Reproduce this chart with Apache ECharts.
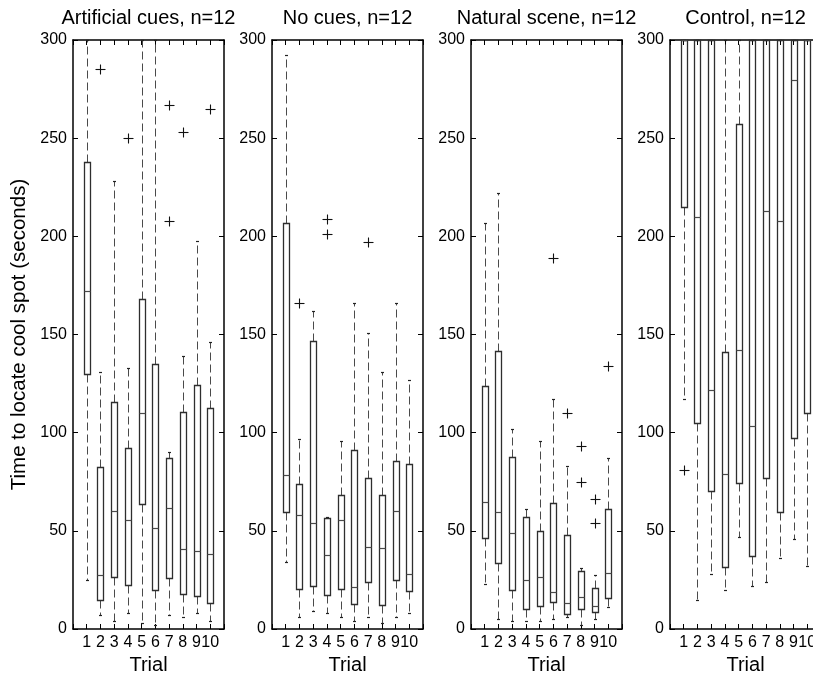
<!DOCTYPE html>
<html><head><meta charset="utf-8">
<script src="https://cdn.jsdelivr.net/npm/echarts@6/dist/echarts.min.js"></script>
<style>html,body{margin:0;padding:0;background:#fff}#c{width:813px;height:680px}</style>
</head><body><div id="c"></div>
<script>
const trialLabels = ['1','2','3','4','5','6','7','8','9','10'];
const trials = [1,2,3,4,5,6,7,8,9,10];
const panelTitles = ['Artificial cues, n=12','No cues, n=12','Natural scene, n=12','Control, n=12'];

// Artificial cues
const artMin = [25, 7, 4, 8, 3, 2, 7, 6, 8, 4];
const artQ1  = [130, 15, 26.5, 22.5, 63.5, 20, 26, 18, 17, 13];
const artMed = [172, 27.5, 60, 55.5, 110, 51.5, 61.5, 40.5, 39.5, 38];
const artQ3  = [238, 82.5, 115.5, 92, 168, 135, 87, 110.5, 124.5, 112.5];
const artMax = [300, 131, 228, 133, 300, 300, 90, 139, 197.5, 146];
const artOut = [[2,285],[4,250],[7,267],[7,208],[8,253],[10,265]];

// No cues
const noMin = [34, 6, 9, 8, 6, 4, 6, 3, 6, 8];
const noQ1  = [59.5, 20.5, 22, 17.5, 20.5, 12.5, 24, 12, 25, 19.5];
const noMed = [78.5, 58, 54, 37.5, 55.5, 21.5, 42, 41.5, 60, 28];
const noQ3  = [207, 74, 146.5, 56.5, 68.5, 91, 77, 68.5, 85.5, 84];
const noMax = [292.5, 97, 162, 57, 96, 166, 151, 131, 166, 127];
const noOut = [[2,166],[4,209],[4,201],[7,197]];

// Natural scene
const natMin = [23, 5, 4, 4, 4, 5, 6, 2, 5, 11];
const natQ1  = [46.5, 33.5, 20, 10, 11.5, 14, 7.5, 10, 8.5, 16];
const natMed = [64.5, 59.5, 49, 25, 26.5, 19, 13, 16.5, 11.5, 28.5];
const natQ3  = [124, 141.5, 87.5, 57, 50, 64, 48, 29.5, 21, 61];
const natMax = [207, 222, 102, 61, 96, 117, 83, 31, 27.5, 87];
const natOut = [[6,189],[7,110],[8,93],[8,75],[9,66],[9,54],[10,134]];

// Control
const ctlMin = [117, 15, 28, 20, 47, 22, 24, 36, 46, 32];
const ctlQ1  = [215, 105, 70.5, 31.5, 74.5, 37, 77, 59.5, 97.5, 110];
const ctlMed = [300, 210, 121.5, 79, 142, 103.5, 213, 208, 279.5, 300];
const ctlQ3  = [300, 300, 300, 141, 257, 300, 300, 300, 300, 300];
const ctlMax = [300, 300, 300, 300, 300, 300, 300, 300, 300, 300];
const ctlOut = [[1,81]];

const panels = [
  [artMin, artQ1, artMed, artQ3, artMax, artOut],
  [noMin, noQ1, noMed, noQ3, noMax, noOut],
  [natMin, natQ1, natMed, natQ3, natMax, natOut],
  [ctlMin, ctlQ1, ctlMed, ctlQ3, ctlMax, ctlOut]
];

const FONT = 'Liberation Sans, Arial, Helvetica, sans-serif';
const gridLefts = [73, 272, 471, 670];
const gridTop = 40, gridW = 151, gridH = 589;
const boxColor = '#2e2e2e', medColor = '#4a4a4a', whiskColor = '#4a4a4a';

function px(v){ return Math.round(v) + 0.5; }

function renderBox(params, api) {
  const x = api.value(0);
  const c = api.coord([x, 0])[0];
  const cx = px(c);
  const hw = Math.round(api.size([0.5, 0])[0] / 2);
  const yMin = px(api.coord([x, api.value(1)])[1]);
  const yQ1 = px(api.coord([x, api.value(2)])[1]);
  const yMed = px(api.coord([x, api.value(3)])[1]);
  const yQ3 = px(api.coord([x, api.value(4)])[1]);
  const yMax = px(api.coord([x, api.value(5)])[1]);
  const dash = { stroke: whiskColor, lineWidth: 1, lineDash: [8, 4], fill: null };
  const solid = { stroke: boxColor, lineWidth: 1.3, fill: null };
  const children = [];
  if (yMax < yQ3) children.push({ type: 'line', shape: { x1: cx, y1: yQ3, x2: cx, y2: yMax }, style: dash });
  if (yMin > yQ1) children.push({ type: 'line', shape: { x1: cx, y1: yQ1, x2: cx, y2: yMin }, style: dash });
  children.push({ type: 'line', shape: { x1: cx - 1.5, y1: yMax, x2: cx + 1.5, y2: yMax }, style: { stroke: '#222', lineWidth: 1.2 } });
  children.push({ type: 'line', shape: { x1: cx - 1.5, y1: yMin, x2: cx + 1.5, y2: yMin }, style: { stroke: '#222', lineWidth: 1.2 } });
  children.push({ type: 'rect', shape: { x: cx - hw, y: yQ3, width: 2 * hw, height: yQ1 - yQ3 }, style: solid });
  children.push({ type: 'line', shape: { x1: cx - hw, y1: yMed, x2: cx + hw, y2: yMed }, style: { stroke: medColor, lineWidth: 1.2 } });
  return { type: 'group', children };
}

function renderOut(params, api) {
  const p = api.coord([api.value(0), api.value(1)]);
  const cx = px(p[0]), cy = px(p[1]), r = 5;
  const st = { stroke: '#111', lineWidth: 1.1 };
  return { type: 'group', children: [
    { type: 'line', shape: { x1: cx - r, y1: cy, x2: cx + r, y2: cy }, style: st },
    { type: 'line', shape: { x1: cx, y1: cy - r, x2: cx, y2: cy + r }, style: st }
  ]};
}

const grids = [], xAxes = [], yAxes = [], series = [], titles = [];
panels.forEach((p, i) => {
  grids.push({ left: gridLefts[i], top: gridTop, width: gridW, height: gridH, outerBoundsMode: 'none', containLabel: false, show: false });
  titles.push({ text: panelTitles[i], left: gridLefts[i] + gridW / 2, top: 8, textAlign: 'center', padding: 0,
    textStyle: { fontSize: 20, fontWeight: 'normal', color: '#000', fontFamily: FONT } });
  const common = {
    gridIndex: i, type: 'value', min: 0, max: 11, interval: 1,
    axisLine: { show: true, onZero: false, lineStyle: { color: '#000', width: 1.5 } },
    axisTick: { show: true, inside: true, length: 5, lineStyle: { color: '#000', width: 1 } },
    splitLine: { show: false }, minorTick: { show: false }
  };
  xAxes.push(Object.assign({}, common, {
    position: 'bottom',
    axisLabel: { show: true, margin: 6, fontSize: 16, color: '#000', fontFamily: FONT, hideOverlap: false,
      formatter: v => (v >= 1 && v <= 10) ? trialLabels[v - 1] : '' },
    name: 'Trial', nameLocation: 'middle', nameGap: 26,
    nameTextStyle: { fontSize: 20, color: '#000', fontFamily: FONT }
  }));
  xAxes.push(Object.assign({}, common, { position: 'top', axisLabel: { show: false } }));
  const ycommon = {
    gridIndex: i, type: 'value', min: 0, max: 300, interval: 50,
    axisLine: { show: true, onZero: false, lineStyle: { color: '#000', width: 1.5 } },
    axisTick: { show: true, inside: true, length: 5, lineStyle: { color: '#000', width: 1 } },
    splitLine: { show: false }, minorTick: { show: false }
  };
  const yl = Object.assign({}, ycommon, {
    position: 'left',
    axisLabel: { show: true, margin: 6, fontSize: 16, color: '#000', fontFamily: FONT }
  });
  if (i === 0) {
    yl.name = 'Time to locate cool spot (seconds)';
    yl.nameLocation = 'middle';
    yl.nameRotate = 90;
    yl.nameGap = 43;
    yl.nameTextStyle = { fontSize: 20.5, color: '#000', fontFamily: FONT };
  }
  yAxes.push(yl);
  yAxes.push(Object.assign({}, ycommon, { position: 'right', axisLabel: { show: false } }));

  const boxData = trials.map((t, k) => [t, p[0][k], p[1][k], p[2][k], p[3][k], p[4][k]]);
  series.push({ type: 'custom', xAxisIndex: 2 * i, yAxisIndex: 2 * i, renderItem: renderBox,
    data: boxData, encode: { x: 0, y: [1, 2, 3, 4, 5] }, silent: true, animation: false });
  series.push({ type: 'custom', xAxisIndex: 2 * i, yAxisIndex: 2 * i, renderItem: renderOut,
    data: p[5], encode: { x: 0, y: 1 }, silent: true, animation: false });
});

const chart = echarts.init(document.getElementById('c'), null, { renderer: 'canvas' });
chart.setOption({
  backgroundColor: '#fff', animation: false,
  title: titles, grid: grids, xAxis: xAxes, yAxis: yAxes, series: series
});
</script>
</body></html>
